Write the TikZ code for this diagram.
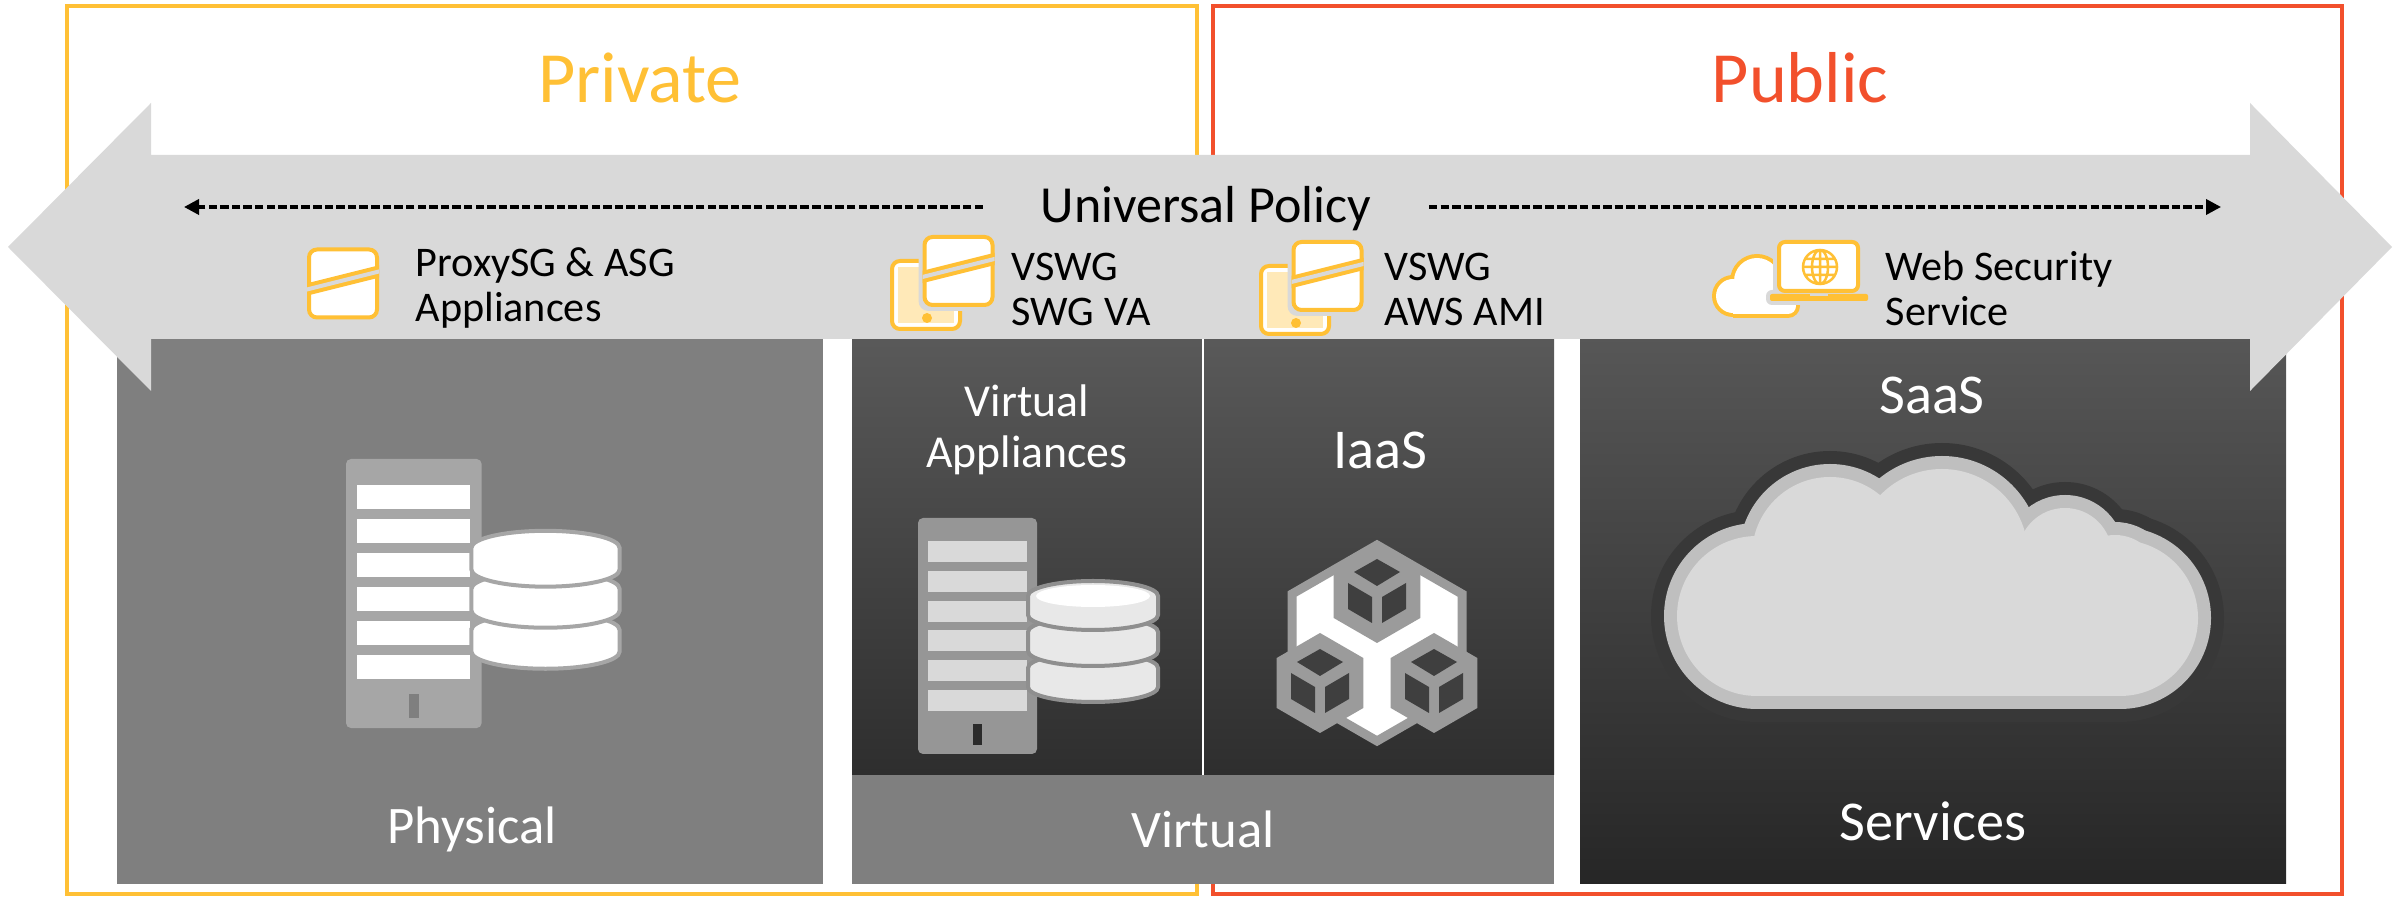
\documentclass[tikz,border=0pt]{standalone}
\usepackage{fontspec}
\setmainfont{Carlito}
\usetikzlibrary{arrows.meta}

\definecolor{privcol}{HTML}{FFC035}
\definecolor{pubcol}{HTML}{F2502C}
\definecolor{bandgray}{HTML}{D9D9D9}
\definecolor{midgray}{HTML}{7F7F7F}
\definecolor{cubegray}{HTML}{9B9B9B}
\definecolor{cubedark}{HTML}{3F3F3F}

% lobes of the big cloud, grown by #1
\newcommand\cloudlobes[2]{%
  \begin{scope}[fill=#2]
    \fill (1757,616) circle[radius={80+#1}];
    \fill (1830,555) circle[radius={78+#1}];
    \fill (1942,555) circle[radius={86+#1}];
    \fill (2065,555) circle[radius={47+#1}];
    \fill (2115,580) circle[radius={45+#1}];
    \fill (2120,618) circle[radius={78+#1}];
    \fill (1757,555) rectangle (2120,{696+#1});
  \end{scope}}

% lobes of the small cloud, shrunk by #1
\newcommand\smallcloud[2]{%
  \begin{scope}[fill=#2]
    \fill (-63,14) circle[radius={27-#1}];
    \fill (-87,29) circle[radius={21-#1}];
    \fill (-32,39) circle[radius={12-#1}];
    \fill (-87,{27+#1}) rectangle (-32,{51-#1});
  \end{scope}}

\tikzset{
  pics/swgbox/.style={code={
    \draw[privcol,fill=white,line width=0.04cm,rounded corners=0.08cm] (-34,-34) rectangle (34,34);
    \begin{scope}
      \clip[rounded corners=0.1cm] (-36,-36) rectangle (36,36);
      \draw[privcol,line width=0.12cm] (-40,7) -- (40,-13);
      \draw[bandgray,line width=0.04cm] (-40,7) -- (40,-13);
    \end{scope}}},
  pics/vswg/.style={code={
    \draw[privcol,fill=white,line width=0.04cm,rounded corners=0.08cm] (-34,-34) rectangle (34,34);
    \fill[privcol!35!white] (-28,-28) rectangle (28,28);
    \fill[privcol] (1,23) circle[radius=5];
    \fill[bandgray,rounded corners=0.1cm] (-7.5,-64) rectangle (72.5,16);
    \pic at (32.5,-24) {swgbox};}},
  pics/server/.style n args={5}{code={
    \fill[#1,rounded corners=0.05cm] (0,0) rectangle (119,236);
    \foreach \k in {0,...,5}
      \fill[#2] (10,{23+29.8*\k}) rectangle (109,{44+29.8*\k});
    \fill[#5] (55,206) rectangle (64,227);
    \foreach \t in {150,114,78}
      \draw[#4,fill=#3,line width=0.04cm] (110,\t) -- (110,\t+19)
        arc[start angle=180,end angle=0,x radius=65,y radius=15]
        -- (240,\t) arc[start angle=0,end angle=-180,x radius=65,y radius=15] -- cycle;
    \fill[white] (175,78) ellipse[x radius=57,y radius=11];}},
  pics/cube/.style={code={
    \fill[cubegray] (0,-50) -- (43.3,-25) -- (43.3,25) -- (0,50) -- (-43.3,25) -- (-43.3,-25) -- cycle;
    \fill[cubedark] (0,-34) -- (23,-21) -- (0,-7) -- (-23,-21) -- cycle;
    \fill[cubedark] (-29,-10) -- (-5,4) -- (-5,30) -- (-29,16) -- cycle;
    \fill[cubedark] (29,-10) -- (5,4) -- (5,30) -- (29,16) -- cycle;}}
}

\begin{document}
\begin{tikzpicture}[x=0.01cm,y=-0.01cm,
  heading/.style={font=\fontsize{20.5}{24}\selectfont,anchor=base,inner sep=0pt},
  tag/.style={font=\fontsize{12}{12.9}\selectfont,align=left,anchor=base west,inner sep=0pt},
  boxlabel/.style={text=white,anchor=base,inner sep=0pt,align=center},
  policyline/.style={line width=0.035cm,dash pattern=on 2.4pt off 0.9pt,
    -{Triangle[length=0.15cm,width=0.15cm]}}]
\useasboundingbox (0,0) rectangle (2394,898);

% private / public frames
\draw[privcol,line width=0.045cm] (67,6) rectangle (1197,894);
\draw[pubcol,line width=0.045cm] (1213,6) rectangle (2342,894);
\node[heading,text=privcol] (private) at (640,103) {Private};
\node[heading,text=pubcol] (public) at (1800,103) {Public};

% deployment boxes
\fill[midgray] (117,339) rectangle (823,884);
\shade[top color=black!65,bottom color=black!82] (852,339) rectangle (1554,775);
\fill[midgray] (852,775) rectangle (1554,884);
\draw[white,line width=0.02cm] (1203,339) -- (1203,775);
\shade[top color=black!66,bottom color=black!85] (1580,339) rectangle (2286,884);

% the two-way band
\fill[bandgray] (8,247) -- (151,103) -- (151,155) -- (2250,155) -- (2250,103)
  -- (2392,247) -- (2250,391) -- (2250,339) -- (151,339) -- (151,391) -- cycle;

\node[font=\fontsize{14.8}{18}\selectfont,anchor=base,inner xsep=0.57cm,inner ysep=0pt]
  (policy) at (1206,223) {Universal Policy};
\coordinate (polL) at (184,207);
\coordinate (polR) at (2221,207);
\draw[policyline] (policy.west |- polL) -- (polL);
\draw[policyline] (policy.east |- polR) -- (polR);

% product icons
\pic at (343,283.5) {swgbox};
\node[tag] (proxytag) at (415,322) {ProxySG \& ASG\\Appliances};
\pic at (926,295) {vswg};
\node[tag] (vatag) at (1011,326) {VSWG\\SWG VA};
\pic at (1295,300) {vswg};
\node[tag] (amitag) at (1384,326) {VSWG\\AWS AMI};

\begin{scope}[shift={(1820,267)}]
  \smallcloud{0}{privcol}
  \smallcloud{4}{white}
  \fill[bandgray,rounded corners=0.06cm] (-47,-31) rectangle (44,28) (-54,23) rectangle (52,38);
  \draw[privcol,fill=white,line width=0.04cm,rounded corners=0.06cm] (-41,-25) rectangle (38,24);
  \fill[privcol,rounded corners=0.02cm] (-50,27) rectangle (48,34);
  \fill[bandgray] (-10,27) rectangle (8,29.5);
  \draw[privcol,line width=0.025cm] (0,0) circle[radius=17] (0,0) ellipse[x radius=8,y radius=17]
    (0,-17) -- (0,17) (-17,0) -- (17,0) (-15.5,-8) -- (15.5,-8) (-15.5,8) -- (15.5,8);
\end{scope}
\node[tag] (wsstag) at (1885,326) {Web Security\\Service};

% physical
\pic[scale=1.14] at (346,459) {server={black!35}{white}{white}{black!35}{midgray}};
\node[boxlabel,font=\fontsize{15}{18}\selectfont] (physical) at (472,844) {Physical};

% virtual
\node[boxlabel,font=\fontsize{13}{14.5}\selectfont] (vapp) at (1027,468) {Virtual\\Appliances};
\pic at (918,518) {server={black!41}{black!15}{black!9}{black!44}{black!83}};
\node[boxlabel,font=\fontsize{16}{19}\selectfont] (iaas) at (1380,469) {IaaS};
\draw[cubegray,fill=white,line width=0.09cm] (1377,545) -- (1462,594) -- (1462,692)
  -- (1377,741) -- (1292,692) -- (1292,594) -- cycle;
\pic at (1377,593) {cube};
\pic at (1320,683) {cube};
\pic at (1434,683) {cube};
\node[boxlabel,font=\fontsize{15}{18}\selectfont] (virtual) at (1203,848) {Virtual};

% saas
\node[boxlabel,font=\fontsize{16}{19}\selectfont] (saas) at (1932,414) {SaaS};
\cloudlobes{26}{black!78}
\cloudlobes{13}{black!25}
\cloudlobes{0}{bandgray}
\node[boxlabel,font=\fontsize{16}{19}\selectfont] (services) at (1933,841) {Services};
\end{tikzpicture}
\end{document}
